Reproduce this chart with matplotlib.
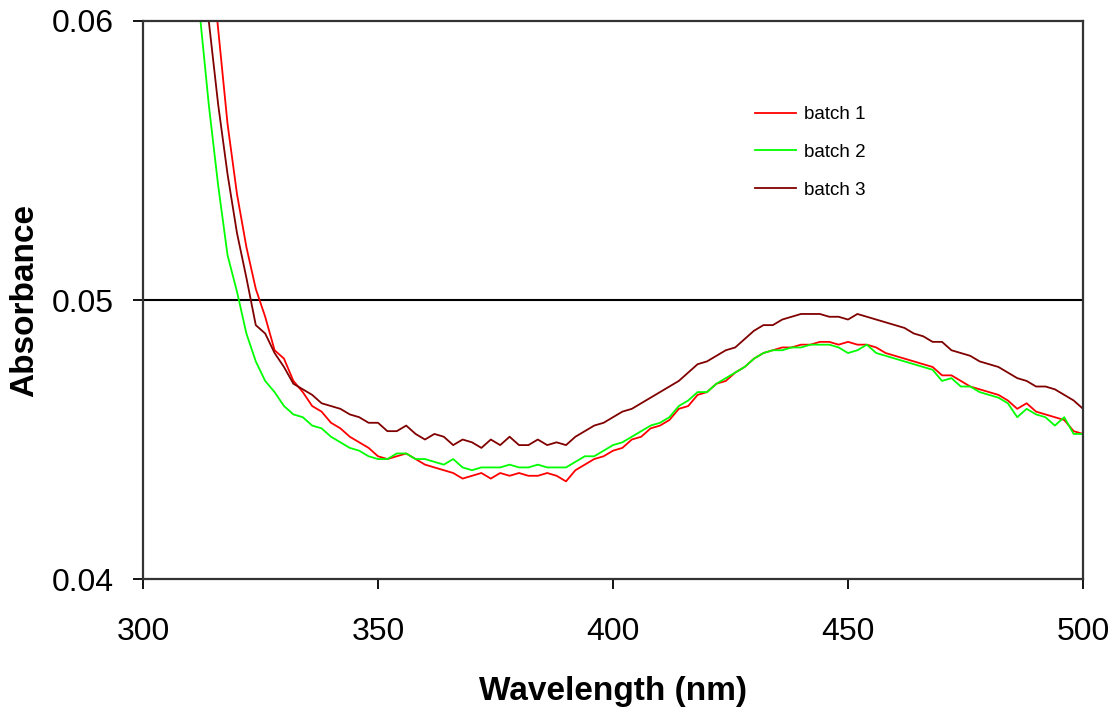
import numpy as np
import matplotlib
matplotlib.use("Agg")
import matplotlib.pyplot as plt

plt.rcParams['font.family'] = ['Liberation Sans', 'DejaVu Sans']

# wavelength grid (nm), 2 nm steps
wavelength = np.arange(310, 501, 2)

batch1 = [0.0700, 0.0665, 0.0631, 0.0597, 0.0563, 0.0538, 0.0519, 0.0504, 0.0494, 0.0482,
          0.0479, 0.0471, 0.0467, 0.0462, 0.0460, 0.0456, 0.0454, 0.0451, 0.0449, 0.0447,
          0.0444, 0.0443, 0.0444, 0.0445, 0.0443, 0.0441, 0.0440, 0.0439, 0.0438, 0.0436,
          0.0437, 0.0438, 0.0436, 0.0438, 0.0437, 0.0438, 0.0437, 0.0437, 0.0438, 0.0437,
          0.0435, 0.0439, 0.0441, 0.0443, 0.0444, 0.0446, 0.0447, 0.0450, 0.0451, 0.0454,
          0.0455, 0.0457, 0.0461, 0.0462, 0.0466, 0.0467, 0.0470, 0.0471, 0.0474, 0.0476,
          0.0479, 0.0481, 0.0482, 0.0483, 0.0483, 0.0484, 0.0484, 0.0485, 0.0485, 0.0484,
          0.0485, 0.0484, 0.0484, 0.0483, 0.0481, 0.0480, 0.0479, 0.0478, 0.0477, 0.0476,
          0.0473, 0.0473, 0.0471, 0.0469, 0.0468, 0.0467, 0.0466, 0.0464, 0.0461, 0.0463,
          0.0460, 0.0459, 0.0458, 0.0457, 0.0453, 0.0452]

batch2 = [0.0630, 0.0604, 0.0570, 0.0541, 0.0516, 0.0503, 0.0488, 0.0478, 0.0471, 0.0467,
          0.0462, 0.0459, 0.0458, 0.0455, 0.0454, 0.0451, 0.0449, 0.0447, 0.0446, 0.0444,
          0.0443, 0.0443, 0.0445, 0.0445, 0.0443, 0.0443, 0.0442, 0.0441, 0.0443, 0.0440,
          0.0439, 0.0440, 0.0440, 0.0440, 0.0441, 0.0440, 0.0440, 0.0441, 0.0440, 0.0440,
          0.0440, 0.0442, 0.0444, 0.0444, 0.0446, 0.0448, 0.0449, 0.0451, 0.0453, 0.0455,
          0.0456, 0.0458, 0.0462, 0.0464, 0.0467, 0.0467, 0.0470, 0.0472, 0.0474, 0.0476,
          0.0479, 0.0481, 0.0482, 0.0482, 0.0483, 0.0483, 0.0484, 0.0484, 0.0484, 0.0483,
          0.0481, 0.0482, 0.0484, 0.0481, 0.0480, 0.0479, 0.0478, 0.0477, 0.0476, 0.0475,
          0.0471, 0.0472, 0.0469, 0.0469, 0.0467, 0.0466, 0.0465, 0.0463, 0.0458, 0.0461,
          0.0459, 0.0458, 0.0455, 0.0458, 0.0452, 0.0452]

batch3 = [0.0660, 0.0630, 0.0600, 0.0570, 0.0545, 0.0524, 0.0508, 0.0491, 0.0488, 0.0481,
          0.0476, 0.0470, 0.0468, 0.0466, 0.0463, 0.0462, 0.0461, 0.0459, 0.0458, 0.0456,
          0.0456, 0.0453, 0.0453, 0.0455, 0.0452, 0.0450, 0.0452, 0.0451, 0.0448, 0.0450,
          0.0449, 0.0447, 0.0450, 0.0448, 0.0451, 0.0448, 0.0448, 0.0450, 0.0448, 0.0449,
          0.0448, 0.0451, 0.0453, 0.0455, 0.0456, 0.0458, 0.0460, 0.0461, 0.0463, 0.0465,
          0.0467, 0.0469, 0.0471, 0.0474, 0.0477, 0.0478, 0.0480, 0.0482, 0.0483, 0.0486,
          0.0489, 0.0491, 0.0491, 0.0493, 0.0494, 0.0495, 0.0495, 0.0495, 0.0494, 0.0494,
          0.0493, 0.0495, 0.0494, 0.0493, 0.0492, 0.0491, 0.0490, 0.0488, 0.0487, 0.0485,
          0.0485, 0.0482, 0.0481, 0.0480, 0.0478, 0.0477, 0.0476, 0.0474, 0.0472, 0.0471,
          0.0469, 0.0469, 0.0468, 0.0466, 0.0464, 0.0461]

labels = ["batch 1", "batch 2", "batch 3"]
colors = ["#ff0000", "#00ff00", "#800000"]

fig = plt.figure(figsize=(11.17, 7.07), dpi=100)
ax = fig.add_axes([0.128, 0.181, 0.8416, 0.7893])

for y, lab, c in zip([batch1, batch2, batch3], labels, colors):
    ax.plot(wavelength, y, color=c, lw=1.3, label=lab)

ax.set_xlim(300, 500)
ax.set_ylim(0.04, 0.06)
ax.set_xticks([300, 350, 400, 450, 500])
ax.set_yticks([0.04, 0.05, 0.06])
ax.set_yticklabels(["0.04", "0.05", "0.06"])
ax.axhline(0.05, color="black", lw=1.5, zorder=1)

for s in ax.spines.values():
    s.set_linewidth(1.6)
    s.set_color("#333333")

ax.tick_params(direction="out", length=7, width=1.3, labelsize=23, colors="black")
ax.tick_params(axis="x", pad=20)
ax.tick_params(axis="y", pad=14)

ax.set_xlabel("Wavelength (nm)", fontsize=24, fontweight="bold", labelpad=21)
ax.set_ylabel("Absorbance", fontsize=24, fontweight="bold", labelpad=8)

ax.legend(loc="upper left", bbox_to_anchor=(0.633, 0.878), frameon=False,
          fontsize=13.5, handlelength=2.2, handletextpad=0.4, labelspacing=1.1)

fig.savefig("out.png", dpi=100)
